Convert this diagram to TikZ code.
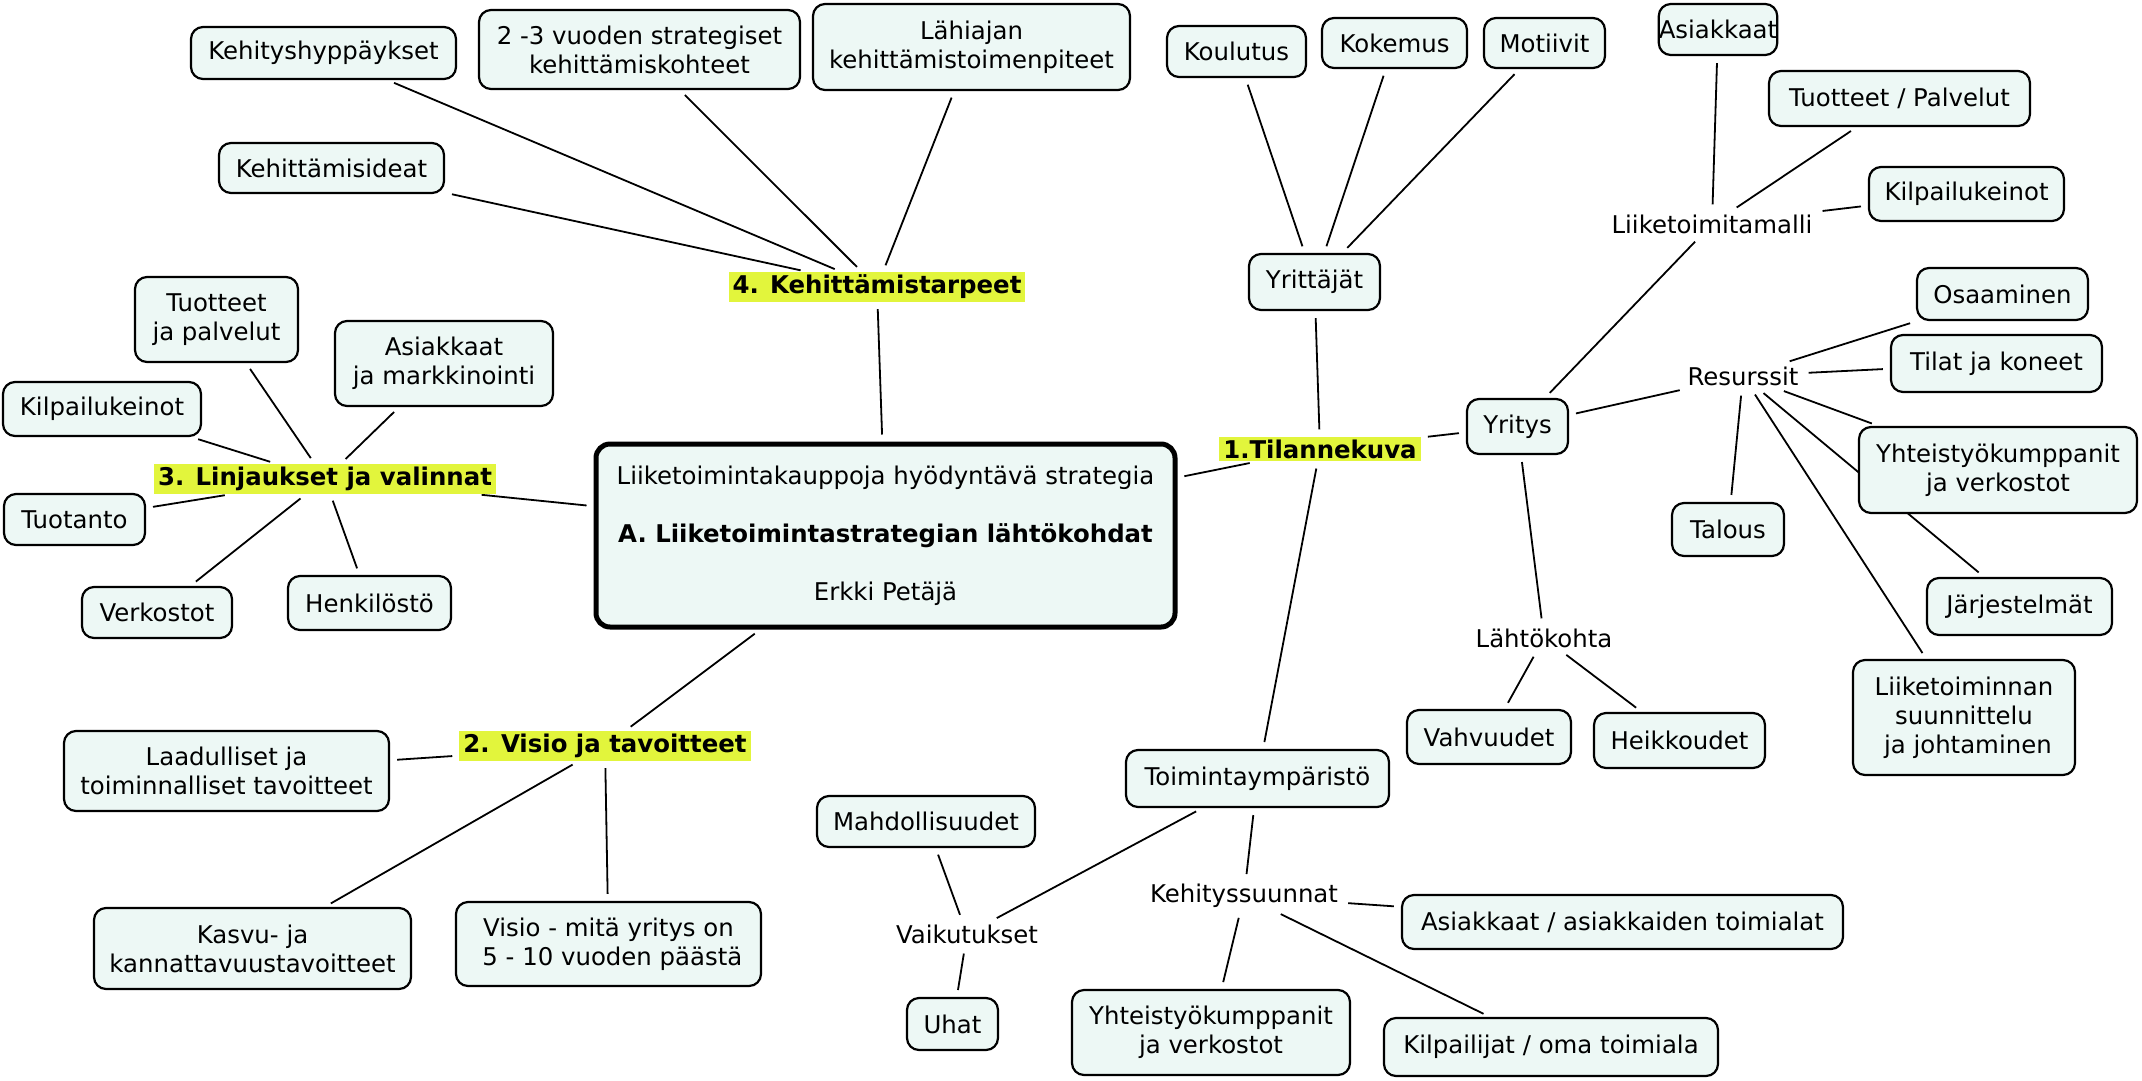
\documentclass[tikz,border=0pt]{standalone}
\usepackage{fontspec}
\setmainfont{DejaVu Sans}
\usetikzlibrary{backgrounds}
\definecolor{boxfill}{RGB}{237,248,245}
\definecolor{hl}{RGB}{226,245,60}
\begin{document}
\begin{tikzpicture}[x=1pt,y=-1pt,
  every node/.style={font=\fontsize{24.4}{29}\selectfont, align=center, inner sep=0pt},
  box/.style={draw=black, line width=2.2pt, rounded corners=12pt, fill=boxfill},
  bx/.style 2 args={box, minimum width=#1, minimum height=#2},
  hlabel/.style={fill=hl, font=\fontsize{24.4}{29}\selectfont\bfseries, inner xsep=4pt, inner ysep=3pt},
  plain/.style={inner sep=3pt},
  link/.style={line width=1.8pt, shorten <=7pt, shorten >=7pt},
]
\useasboundingbox (0,0) rectangle (2142,1080);

% central
\node[draw=black, line width=5pt, rounded corners=14pt, fill=boxfill, minimum width=579pt, minimum height=183pt] (cen) at (885.5,535.5)
  {Liiketoimintakauppoja hyödyntävä strategia\\[29pt]\textbf{A. Liiketoimintastrategian lähtökohdat}\\[29pt]Erkki Petäjä};

% highlighted labels
\node[hlabel] (k4) at (877,287) {4. Kehittämistarpeet};
\node[hlabel] (t1) at (1320,449) {1.Tilannekuva};
\node[hlabel] (v2) at (605,746) {2. Visio ja tavoitteet};
\node[hlabel] (l3) at (325,479) {3. Linjaukset ja valinnat};

% branch 4
\node[bx={265pt}{52pt}] (kh) at (323.5,53) {Kehityshyppäykset};
\node[bx={321pt}{79pt}] (v23) at (639.5,49.5) {2 -3 vuoden strategiset\\kehittämiskohteet};
\node[bx={317pt}{86pt}] (lah) at (971.5,47) {Lähiajan\\kehittämistoimenpiteet};
\node[bx={225pt}{50pt}] (kid) at (331.5,168) {Kehittämisideat};

% branch 1
\node[bx={131pt}{56pt}] (yri) at (1314.5,282) {Yrittäjät};
\node[bx={139pt}{51pt}] (kou) at (1236.5,51.5) {Koulutus};
\node[bx={145pt}{50pt}] (kok) at (1394.5,43) {Kokemus};
\node[bx={121pt}{50pt}] (mot) at (1544.5,43) {Motiivit};
\node[bx={101pt}{55pt}] (yrs) at (1517.5,426.5) {Yritys};
\node[plain] (ltm) at (1712,224) {Liiketoimitamalli};
\node[bx={114pt}{51pt}] (asi) at (1718,29.5) {Asiakkaat};
\node[bx={261pt}{55pt}] (tp) at (1899.5,98.5) {Tuotteet / Palvelut};
\node[bx={195pt}{54pt}] (kk2) at (1966.5,194) {Kilpailukeinot};
\node[plain] (res) at (1743,376) {Resurssit};
\node[bx={171pt}{52pt}] (osa) at (2002.5,294) {Osaaminen};
\node[bx={211pt}{57pt}] (til) at (1996.5,363.5) {Tilat ja koneet};
\node[bx={278pt}{86pt}] (yht) at (1998,470) {Yhteistyökumppanit\\ja verkostot};
\node[bx={112pt}{53pt}] (tal) at (1728,529.5) {Talous};
\node[bx={185pt}{57pt}] (jar) at (2019.5,606.5) {Järjestelmät};
\node[bx={222pt}{115pt}] (lts) at (1964,717.5) {Liiketoiminnan\\suunnittelu\\\ ja johtaminen};
\node[plain] (lk) at (1544,638) {Lähtökohta};
\node[bx={164pt}{54pt}] (vah) at (1489,737) {Vahvuudet};
\node[bx={171pt}{55pt}] (hei) at (1679.5,740.5) {Heikkoudet};
\node[bx={263pt}{57pt}] (tym) at (1257.5,778.5) {Toimintaympäristö};
\node[plain] (ks) at (1244,896) {Kehityssuunnat};
\node[bx={441pt}{54pt}] (aat) at (1622.5,922) {Asiakkaat / asiakkaiden toimialat};
\node[bx={278pt}{85pt}] (yv) at (1211,1032.5) {Yhteistyökumppanit\\ja verkostot};
\node[bx={334pt}{58pt}] (kil) at (1551,1047) {Kilpailijat / oma toimiala};
\node[plain] (vai) at (967,934) {Vaikutukset};
\node[bx={218pt}{51pt}] (mah) at (926,821.5) {Mahdollisuudet};
\node[bx={91pt}{52pt}] (uha) at (952.5,1024) {Uhat};

% branch 2
\node[bx={325pt}{80pt}] (laa) at (226.5,771) {Laadulliset ja\\toiminnalliset tavoitteet};
\node[bx={317pt}{81pt}] (kas) at (252.5,948.5) {Kasvu- ja\\kannattavuustavoitteet};
\node[bx={305pt}{84pt}] (vis) at (608.5,944) {Visio - mitä yritys on\\\ 5 - 10 vuoden päästä};

% branch 3
\node[bx={163pt}{85pt}] (tjp) at (216.5,319.5) {Tuotteet\\ja palvelut};
\node[bx={218pt}{85pt}] (ajm) at (444,363.5) {Asiakkaat\\ja markkinointi};
\node[bx={198pt}{54pt}] (kk1) at (102,409) {Kilpailukeinot};
\node[bx={141pt}{51pt}] (tuo) at (74.5,519.5) {Tuotanto};
\node[bx={150pt}{51pt}] (ver) at (157,612.5) {Verkostot};
\node[bx={163pt}{54pt}] (hen) at (369.5,603) {Henkilöstö};

\begin{scope}[on background layer]
\fill[white] (0,0) rectangle (2142,1080);
\draw[link] (k4) -- (kh);
\draw[link] (k4) -- (v23);
\draw[link] (k4) -- (lah);
\draw[link] (k4) -- (kid);
\draw[link] (k4) -- (cen);
\draw[link] (cen) -- (t1);
\draw[link] (t1) -- (yri);
\draw[link] (t1) -- (yrs);
\draw[link] (t1) -- (tym);
\draw[link] (yri) -- (kou);
\draw[link] (yri) -- (kok);
\draw[link] (yri) -- (mot);
\draw[link] (yrs) -- (ltm);
\draw[link] (ltm) -- (asi);
\draw[link] (ltm) -- (tp);
\draw[link] (ltm) -- (kk2);
\draw[link] (yrs) -- (res);
\draw[link] (res) -- (osa);
\draw[link] (res) -- (til);
\draw[link] (res) -- (yht);
\draw[link] (res) -- (tal);
\draw[link] (res) -- (jar);
\draw[link] (res) -- (lts);
\draw[link] (yrs) -- (lk);
\draw[link] (lk) -- (vah);
\draw[link] (lk) -- (hei);
\draw[link] (tym) -- (vai);
\draw[link] (tym) -- (ks);
\draw[link] (vai) -- (mah);
\draw[link] (vai) -- (uha);
\draw[link] (ks) -- (aat);
\draw[link] (ks) -- (yv);
\draw[link] (ks) -- (kil);
\draw[link] (cen) -- (v2);
\draw[link] (v2) -- (laa);
\draw[link] (v2) -- (kas);
\draw[link] (v2) -- (vis);
\draw[link] (cen) -- (l3);
\draw[link] (l3) -- (tjp);
\draw[link] (l3) -- (ajm);
\draw[link] (l3) -- (kk1);
\draw[link] (l3) -- (tuo);
\draw[link] (l3) -- (ver);
\draw[link] (l3) -- (hen);
\end{scope}
\end{tikzpicture}
\end{document}
